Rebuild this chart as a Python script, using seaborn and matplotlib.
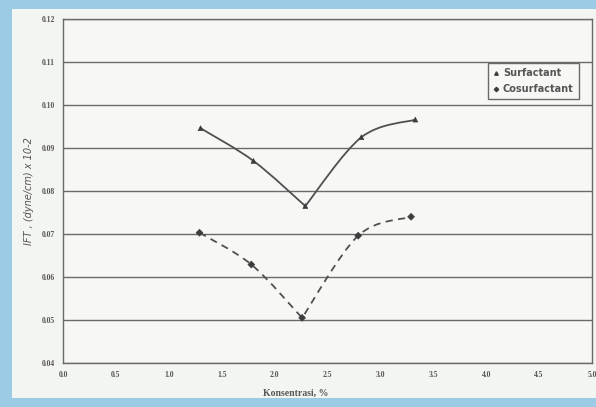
import numpy as np
import pandas as pd
import matplotlib
matplotlib.use("Agg")
import matplotlib.pyplot as plt
from matplotlib.path import Path
from matplotlib.patches import PathPatch, Rectangle
from matplotlib.lines import Line2D
import seaborn as sns

# ---- data ----
surf_x = [1.30, 1.80, 2.29, 2.82, 3.33]
surf_y = [0.0946, 0.0870, 0.0765, 0.0925, 0.0966]
cosurf_x = [1.29, 1.78, 2.26, 2.79, 3.29]
cosurf_y = [0.0703, 0.0629, 0.0505, 0.0696, 0.0740]
series_names = ["Surfactant", "Cosurfactant"]
x_ticks = [0.0, 0.5, 1.0, 1.5, 2.0, 2.5, 3.0, 3.5, 4.0, 4.5, 5.0]
y_ticks = [0.04, 0.05, 0.06, 0.07, 0.08, 0.09, 0.10, 0.11, 0.12]

df = pd.DataFrame({
    "x": surf_x + cosurf_x,
    "y": surf_y + cosurf_y,
    "series": [series_names[0]] * len(surf_x) + [series_names[1]] * len(cosurf_x),
})

sns.set_theme(style="white")
plt.rcParams["font.family"] = ["DejaVu Sans"]

fig = plt.figure(figsize=(5.96, 4.07), dpi=100)
fig.patch.set_facecolor("#9ccbe6")
fig.patches.append(Rectangle((12 / 596, 9 / 407), 1.0, 389 / 407, transform=fig.transFigure,
                             facecolor="#f3f5f2", edgecolor="none", zorder=-10))

ax = fig.add_axes([63 / 596, 1 - 363 / 407, 529 / 596, 344 / 407])
ax.set_facecolor("#f7f8f6")

line_col = "#505050"


def smooth_path(xs, ys, break_at):
    # smoothed line (Bezier through the data points), with a corner at the minimum
    pts = np.column_stack([xs, ys])
    verts = [tuple(pts[0])]
    codes = [Path.MOVETO]
    n = len(pts)
    for i in range(n - 1):
        p1 = pts[i]
        p2 = pts[i + 1]
        p0 = pts[i - 1] if (i > 0 and i != break_at) else pts[i]
        p3 = pts[i + 2] if (i + 2 < n and i + 1 != break_at) else pts[i + 1]
        c1 = p1 + (p2 - p0) / 6.0
        c2 = p2 - (p3 - p1) / 6.0
        verts += [tuple(c1), tuple(c2), tuple(p2)]
        codes += [Path.CURVE4] * 3
    return Path(verts, codes)


ax.add_patch(PathPatch(smooth_path(surf_x, surf_y, int(np.argmin(surf_y))), facecolor="none",
                       edgecolor=line_col, lw=1.3, transform=ax.transData, zorder=3))
ax.add_patch(PathPatch(smooth_path(cosurf_x, cosurf_y, int(np.argmin(cosurf_y))), facecolor="none",
                       edgecolor=line_col, lw=1.3, linestyle=(0, (4, 3)), transform=ax.transData, zorder=3))

sns.scatterplot(data=df, x="x", y="y", style="series", markers={"Surfactant": "^", "Cosurfactant": "D"},
                color="#3c3c3c", s=12, edgecolor="#3c3c3c", linewidth=0.5, legend=False, ax=ax, zorder=4)

ax.set_xlim(0, 5)
ax.set_ylim(0.04, 0.12)
ax.set_xticks(x_ticks)
ax.set_yticks(y_ticks)
ax.set_xticklabels([f"{v:.1f}" for v in x_ticks], family="Liberation Serif", fontsize=5.5,
                   fontweight="bold", color="#555555")
ax.set_yticklabels([f"{v:.2f}" for v in y_ticks], family="Liberation Serif", fontsize=5.5,
                   fontweight="bold", color="#555555")
ax.tick_params(axis="both", length=0, pad=6)
ax.yaxis.grid(True, color="#6a6a6a", lw=1.0)
ax.xaxis.grid(False)
for s in ax.spines.values():
    s.set_color("#6a6a6a")
    s.set_linewidth(1.0)

ax.set_xlabel("Konsentrasi, %", family="Liberation Serif", fontsize=7, fontweight="bold", color="#555555")
ax.xaxis.set_label_coords(0.44, -0.075)
ax.set_ylabel("IFT , (dyne/cm) x 10-2", fontsize=7, style="italic", color="#555555")
ax.yaxis.set_label_coords(-0.055, 0.5)

handles = [
    Line2D([], [], marker="^", color="#3c3c3c", lw=0, markersize=2.5),
    Line2D([], [], marker="D", color="#3c3c3c", lw=0, markersize=2.2),
]
leg = ax.legend(handles, series_names, loc="upper left", bbox_to_anchor=(0.795, 0.885),
                fontsize=7, frameon=True, fancybox=False, handlelength=0.6, handletextpad=0.4,
                borderpad=0.5, labelspacing=0.6, labelcolor="#555555")
leg.get_frame().set_edgecolor("#6a6a6a")
leg.get_frame().set_linewidth(1.0)
leg.get_frame().set_facecolor("#f7f8f6")
leg.get_frame().set_alpha(1)
for t in leg.get_texts():
    t.set_fontweight("semibold")

fig.savefig("out.png", dpi=100, facecolor=fig.get_facecolor())
